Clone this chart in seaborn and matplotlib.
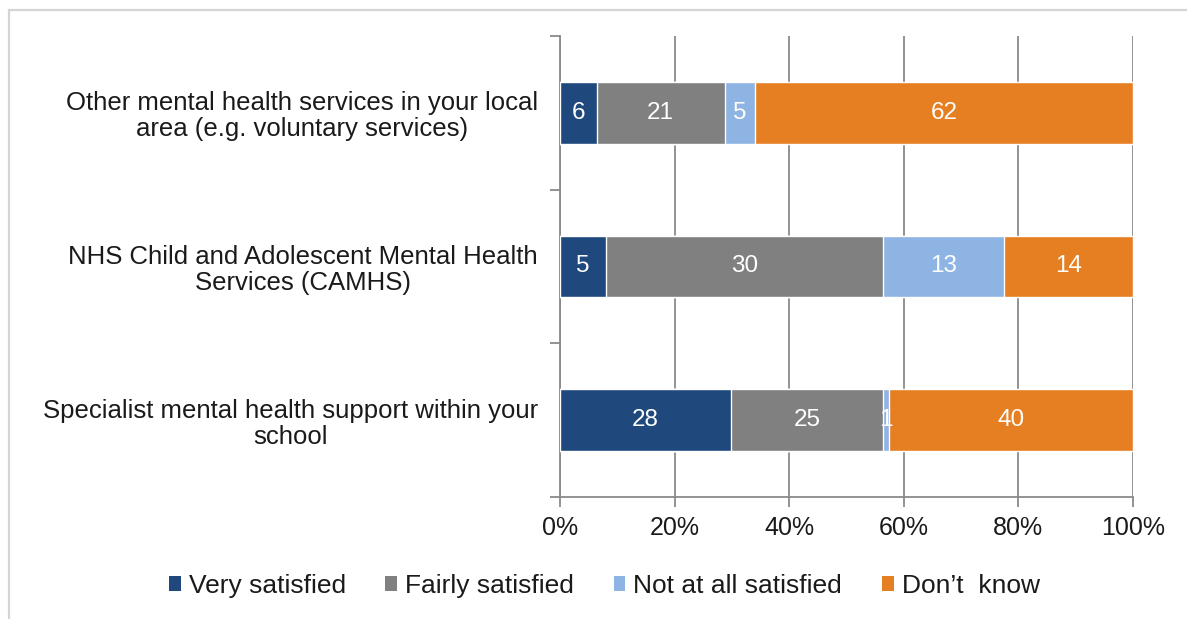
import numpy as np
import pandas as pd
import matplotlib
matplotlib.use("Agg")
import matplotlib.pyplot as plt
from matplotlib.patches import Patch, Rectangle
from matplotlib.ticker import FixedLocator, PercentFormatter
import seaborn as sns

# Survey responses: satisfaction with mental health services (counts)
services = [
    "Other mental health services in your local\narea (e.g. voluntary services)",
    "NHS Child and Adolescent Mental Health\nServices (CAMHS)",
    "Specialist mental health support within your\nschool",
]
responses = ["Very satisfied", "Fairly satisfied", "Not at all satisfied", "Don\u2019t  know"]
very_satisfied = [6, 5, 28]
fairly_satisfied = [21, 30, 25]
not_satisfied = [5, 13, 1]
dont_know = [62, 14, 40]
colors = ["#1F497D", "#808080", "#8DB4E2", "#E67E22"]

sns.set_theme(style="white")
plt.rcParams["font.family"] = ["Liberation Sans", "DejaVu Sans"]

counts = pd.DataFrame(
    {
        responses[0]: very_satisfied,
        responses[1]: fairly_satisfied,
        responses[2]: not_satisfied,
        responses[3]: dont_know,
    },
    index=services,
)
share = counts.div(counts.sum(axis=1), axis=0) * 100
cum = share.cumsum(axis=1)

fig = plt.figure(figsize=(11.87, 6.19), dpi=100)
ax = fig.add_axes([560 / 1187, 1 - 497 / 619, 573 / 1187, 461 / 619])

# Stack by overlaying cumulative totals, widest first
for col, colr in reversed(list(zip(responses, colors))):
    d = pd.DataFrame({"service": services, "value": cum[col].values})
    sns.barplot(data=d, y="service", x="value", color=colr, width=0.4,
                saturation=1, ax=ax, orient="h", zorder=3)

# Segment labels showing the raw counts
for i, svc in enumerate(services):
    left = 0.0
    for col in responses:
        w = share.loc[svc, col]
        ax.text(left + w / 2, i, f"{counts.loc[svc, col]}", ha="center",
                va="center", color="white", fontsize=17.5, zorder=5)
        left += w

ax.set_xlim(0, 100)
ax.set_ylim(2.5, -0.5)
ax.set_xlabel("")
ax.set_ylabel("")
ax.xaxis.set_major_locator(FixedLocator([0, 20, 40, 60, 80, 100]))
ax.xaxis.set_major_formatter(PercentFormatter(decimals=0))
ax.grid(axis="x", color="#8a8a8a", lw=1.3, zorder=0)
ax.set_axisbelow(True)

# Category ticks at boundaries, labels centred on bars
ax.yaxis.set_major_locator(FixedLocator([-0.5, 0.5, 1.5, 2.5]))
ax.set_yticklabels([])
ax.yaxis.set_minor_locator(FixedLocator([0, 1, 2]))
ax.set_yticklabels(services, minor=True)
ax.tick_params(axis="y", which="major", length=7, width=1.3, color="#8a8a8a", left=True)
ax.tick_params(axis="y", which="minor", length=0, pad=16, labelsize=18.5, labelcolor="#1a1a1a")
for lbl in ax.get_yticklabels(minor=True):
    lbl.set_multialignment("center")
    lbl.set_linespacing(1.1)
ax.tick_params(axis="x", length=7, width=1.3, color="#8a8a8a", bottom=True,
               labelsize=18, labelcolor="#1a1a1a", pad=7)

for s in ["top", "right"]:
    ax.spines[s].set_visible(False)
for s in ["left", "bottom"]:
    ax.spines[s].set_color("#8a8a8a")
    ax.spines[s].set_linewidth(1.3)

handles = [Patch(facecolor=c, edgecolor="none", label=r) for r, c in zip(responses, colors)]
fig.legend(handles=handles, loc="center", bbox_to_anchor=(0.509, 1 - 586 / 619),
           ncol=4, frameon=False, fontsize=19, handlelength=0.45, handleheight=0.5,
           handletextpad=0.3, columnspacing=1.5, labelcolor="#1a1a1a")

# Thin outer frame
fig.add_artist(Rectangle((9 / 1187, -0.1), 1.2, 1 - 10 / 619 + 0.1,
                         transform=fig.transFigure, fill=False,
                         edgecolor="#d4d4d4", lw=1.6, clip_on=False))

fig.savefig("out.png", dpi=100)
